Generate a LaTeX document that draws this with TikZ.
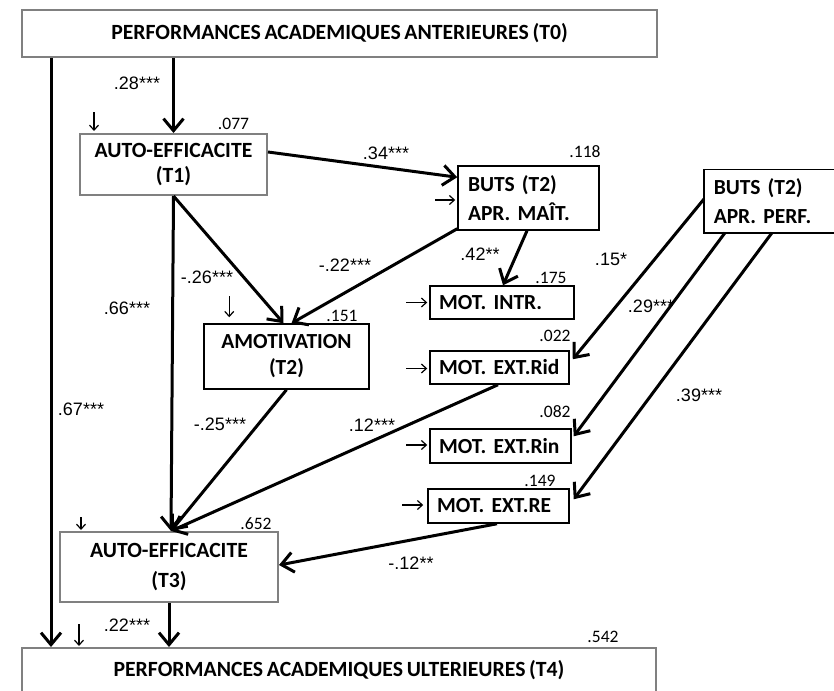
\documentclass[tikz,border=0pt]{standalone}
\usepackage{fontspec}
\setmainfont{Carlito}[WordSpace=0.75]
\newfontfamily\coeffont{Liberation Sans}
\usetikzlibrary{arrows.meta,calc}
\frenchspacing
\begin{document}
\begin{tikzpicture}[x=1pt,y=-1pt,
  gbox/.style={draw=black!50,line width=2pt,inner sep=0pt,align=center,
    font=\bfseries\fontsize{21.7}{25}\selectfont},
  bbox/.style={draw=black,line width=1.5pt,inner ysep=0pt,align=left,
    font=\bfseries\fontsize{21.5}{29}\selectfont},
  path/.style={line width=3pt,-{Straight Barb[length=12pt,width=20pt]}},
  err/.style={line width=1.2pt,-{Straight Barb[length=5pt,width=9pt]}},
  coef/.style={font=\coeffont\fontsize{18}{18}\selectfont,inner sep=0pt},
  rsq/.style={font=\fontsize{17.5}{17.5}\selectfont,inner sep=0pt}]
\useasboundingbox (0,0) rectangle (834,690);
\clip (0,0) rectangle (834,690);
\fill[white] (0,0) rectangle (834,690);

% boxes
\node[gbox,minimum width=635pt,minimum height=47pt] (T0) at (339.5,33.5)
  {PERFORMANCES ACADEMIQUES ANTERIEURES (T0)};
\node[gbox,minimum width=187pt,minimum height=61pt] (T1) at (173.5,164.5)
  {AUTO-EFFICACITE\\(T1)};
\node[bbox,text width=121pt,inner xsep=10pt,minimum height=64pt] (MAIT) at (528.5,198)
  {BUTS (T2)\\APR. MAÎT.};
\node[bbox,draw=none,anchor=west,text width=110pt,inner xsep=9pt,minimum height=62pt] (PERF) at (704,201)
  {BUTS (T2)\\APR. PERF.};
\draw[line width=1.5pt] ($(PERF.north west)+(200,0)$) -- (PERF.north west)
  -- (PERF.south west) -- ++(200,0);
\node[bbox,text width=126pt,inner xsep=9pt,minimum height=33pt] (INTR) at (502,302.5)
  {MOT. INTR.};
\node[bbox,text width=121pt,inner xsep=9pt,minimum height=33pt] (RID) at (499.5,367.5)
  {MOT. EXT.Rid};
\node[bbox,text width=123pt,inner xsep=9pt,minimum height=34pt] (RIN) at (500.5,446)
  {MOT. EXT.Rin};
\node[bbox,text width=123pt,inner xsep=9pt,minimum height=34pt] (RE) at (498.5,506)
  {MOT. EXT.RE};
\node[draw=black,line width=1.5pt,inner sep=0pt,align=center,
  font=\bfseries\fontsize{21.5}{26}\selectfont,
  minimum width=165pt,minimum height=65pt] (AMOT) at (286.5,356.5)
  {AMOTIVATION\\(T2)};
\node[gbox,font=\bfseries\fontsize{21.7}{30}\selectfont,
  minimum width=218pt,minimum height=70pt] (T3) at (169,567)
  {AUTO-EFFICACITE\\(T3)};
\node[gbox,minimum width=634pt,minimum height=44pt] (T4) at (339,670)
  {PERFORMANCES ACADEMIQUES ULTERIEURES (T4)};

% structural paths
\draw[path] (T1.north |- T0.south) -- (T1.north);
\draw[path] ($(T0.south west)+(30,0)$) -- ($(T4.north west)+(30,0)$);
\draw[path] ($(T1.north east)+(0,19)$) -- ($(MAIT.north west)+(0,12)$);
\draw[path] (T1.south) -- ($(AMOT.north)+(-3,0)$);
\draw[path] ($(MAIT.south west)+(0,-2)$) -- ($(AMOT.north)+(5,0)$);
\draw[path] (T1.south) -- ($(T3.north)+(2,0)$);
\draw[path] ($(MAIT.south)+(-1.5,0)$) -- ($(INTR.north)+(1,0)$);
\draw[path] ($(PERF.west)+(0,-2)$) -- ($(RID.north east)+(3,9)$);
\draw[path] ($(PERF.south west)+(21,0)$) -- ($(RIN.north east)+(2,8)$);
\draw[path] ($(PERF.south west)+(68,0)$) -- ($(RE.north east)+(4,11)$);
\draw[path] (AMOT.south) -- ($(T3.north)+(2,0)$);
\draw[path] ($(RID.south)+(-1.5,0)$) -- ($(T3.north)+(2,0)$);
\draw[path] ($(RE.south)+(-1.5,0)$) -- ($(T3.east)+(0,-2)$);
\draw[path] (T3.south) -- (T3.south |- T4.north);

% error arrows
\draw[err] ($(T1.north west)+(15,-21)$) -- ($(T1.north west)+(15,-2)$);
\draw[err] ($(MAIT.west)+(-22,2)$) -- ($(MAIT.west)+(-2,2)$);
\draw[err] ($(INTR.west)+(-23,0)$) -- ($(INTR.west)+(-2,0)$);
\draw[err] ($(RID.west)+(-23,1)$) -- ($(RID.west)+(-2,1)$);
\draw[err] ($(RIN.west)+(-23,-1)$) -- ($(RIN.west)+(-2,-1)$);
\draw[err] ($(RE.west)+(-25,-1)$) -- ($(RE.west)+(-4,-1)$);
\draw[err] ($(AMOT.north west)+(26,-27)$) -- ($(AMOT.north west)+(26,-6)$);
\draw[err] ($(T3.north west)+(22,-14)$) -- ($(T3.north west)+(22,-1)$);
\draw[err] ($(T4.north west)+(58,-23)$) -- ($(T4.north west)+(58,-1)$);

% path coefficients
\node[coef] (c1) at (137,83) {.28***};
\node[coef] (c2) at (386,153) {.34***};
\node[coef] (c3) at (207,277) {-.26***};
\node[coef] (c4) at (345,265) {-.22***};
\node[coef] (c5) at (127,308) {.66***};
\node[coef] (c6) at (480,254) {.42**};
\node[coef] (c7) at (611,259) {.15*};
\node[coef] (c8) at (651,306) {.29***};
\node[coef] (c9) at (699,395) {.39***};
\node[coef] (c10) at (220,424) {-.25***};
\node[coef] (c11) at (372,425) {.12***};
\node[coef] (c12) at (411,563) {-.12**};
\node[coef] (c13) at (127,625) {.22***};
\node[coef] (c14) at (81,409) {.67***};

% R squared
\node[rsq] (r1) at (233.5,124) {.077};
\node[rsq] (r2) at (585,152) {.118};
\node[rsq] (r3) at (551,278) {.175};
\node[rsq] (r4) at (555,336) {.022};
\node[rsq] (r5) at (555,412) {.082};
\node[rsq] (r6) at (540,481) {.149};
\node[rsq] (r7) at (342,316) {.151};
\node[rsq] (r8) at (256,524) {.652};
\node[rsq] (r9) at (603,637) {.542};
\end{tikzpicture}
\end{document}
